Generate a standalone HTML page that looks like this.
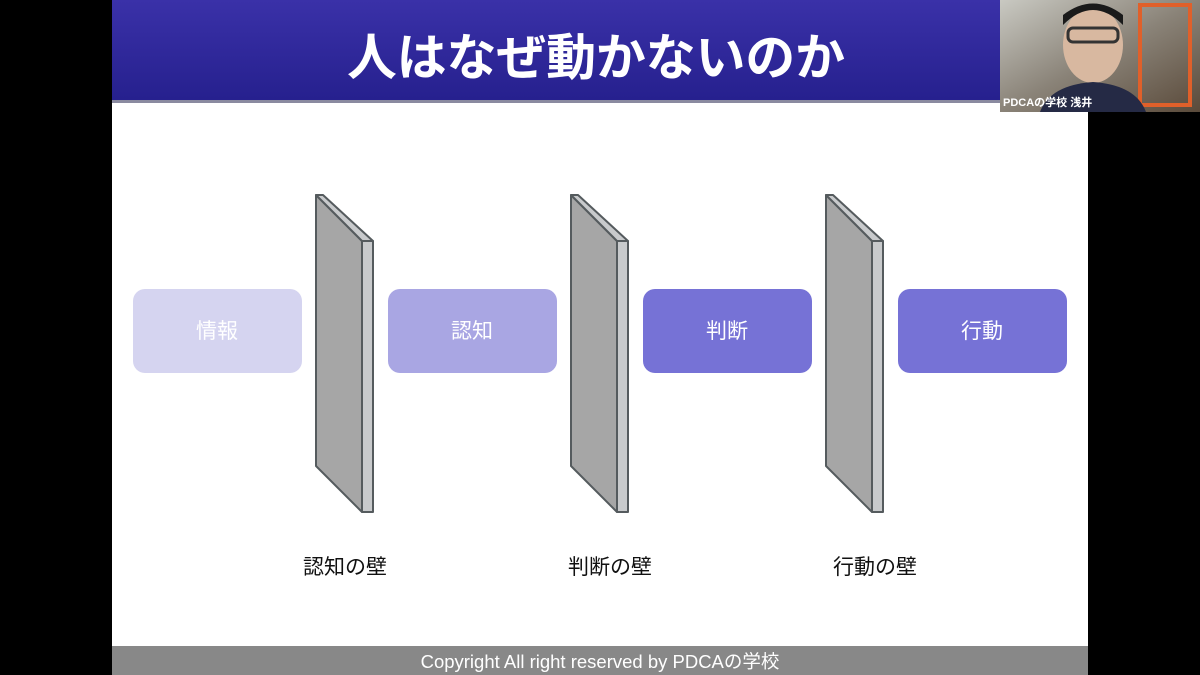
<!DOCTYPE html>
<html><head><meta charset="utf-8"><style>
body{margin:0;width:1200px;height:675px;background:#000;overflow:hidden;font-family:"Liberation Sans","Noto Sans CJK JP",sans-serif}
</style></head><body>
<svg width="1200" height="675" xmlns="http://www.w3.org/2000/svg" style="display:block">
<defs>
<linearGradient id="hg" x1="0" y1="0" x2="0" y2="1">
<stop offset="0" stop-color="#3a31a8"/><stop offset="1" stop-color="#26208e"/>
</linearGradient>
<linearGradient id="cam" x1="0" y1="0" x2="1" y2="1">
<stop offset="0" stop-color="#c9c9c2"/><stop offset="0.5" stop-color="#8a8378"/><stop offset="1" stop-color="#5a4a3a"/>
</linearGradient>
</defs>
<rect x="0" y="0" width="1200" height="675" fill="#000"/>
<rect x="112" y="0" width="976" height="675" fill="#fff"/>
<rect x="112" y="0" width="976" height="100" fill="url(#hg)"/>
<rect x="112" y="100" width="976" height="3" fill="#8a8aa0"/>
<text x="596" y="75" text-anchor="middle" font-size="50" font-weight="bold" fill="#fff" textLength="498" lengthAdjust="spacingAndGlyphs" font-family="Liberation Sans, Noto Sans CJK JP, sans-serif">人はなぜ動かないのか</text>
<!-- webcam -->
<rect x="1000" y="0" width="200" height="112" fill="url(#cam)"/>
<rect x="1140" y="5" width="50" height="100" fill="none" stroke="#e0602a" stroke-width="4"/>
<ellipse cx="1093" cy="45" rx="30" ry="38" fill="#d8b8a0"/>
<path d="M1040 112 Q1050 85 1093 82 Q1136 85 1146 112Z" fill="#252a45"/>
<rect x="1068" y="28" width="50" height="14" rx="5" fill="none" stroke="#333" stroke-width="3"/>
<path d="M1063 25 Q1093 -5 1123 25 L1123 15 Q1093 -8 1063 15Z" fill="#1a1a1a"/>
<text x="1003" y="106" font-size="11" font-weight="bold" fill="#fff">PDCAの学校 浅井</text>
<!-- boxes -->
<rect x="133" y="289" width="169" height="84" rx="12" fill="#d5d4f0"/>
<rect x="388" y="289" width="169" height="84" rx="12" fill="#a9a6e3"/>
<rect x="643" y="289" width="169" height="84" rx="12" fill="#7672d6"/>
<rect x="898" y="289" width="169" height="84" rx="12" fill="#7672d6"/>
<g font-size="21" fill="#fff" text-anchor="middle">
<text x="217" y="338">情報</text><text x="472" y="338">認知</text>
<text x="727" y="338">判断</text><text x="982" y="338">行動</text>
</g>
<!-- walls -->
<g stroke="#555b5e" stroke-width="2" stroke-linejoin="round">
<g id="w">
<polygon points="316,195 362,241 362,512 316,466" fill="#a6a6a6"/>
<polygon points="316,195 323,195 373,241 362,241" fill="#c8cacc"/>
<polygon points="362,241 373,241 373,512 362,512" fill="#c8cacc"/>
</g>
<use href="#w" x="255"/>
<use href="#w" x="510"/>
</g>
<g font-size="21" fill="#111" text-anchor="middle">
<text x="345" y="574">認知の壁</text><text x="610" y="574">判断の壁</text><text x="875" y="574">行動の壁</text>
</g>
<rect x="112" y="646" width="976" height="29" fill="#888"/>
<text x="600" y="668" font-size="18.5" fill="#fff" text-anchor="middle">Copyright All right reserved by PDCAの学校</text>
</svg>
</body></html>
